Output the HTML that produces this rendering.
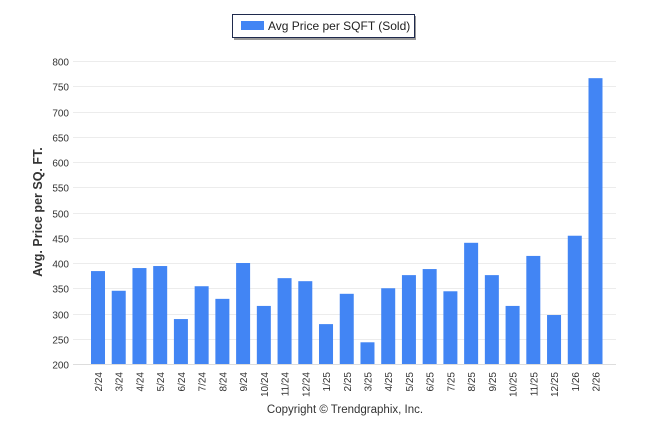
<!DOCTYPE html>
<html><head><meta charset="utf-8"><style>
body{margin:0;background:#fff;font-family:"Liberation Sans",Arial,sans-serif}
svg text{font-family:"Liberation Sans",Arial,sans-serif}
</style></head><body>
<svg id="c" width="646" height="434" viewBox="0 0 646 434">
<rect x="234" y="16" width="182" height="24" fill="#999"/>
<rect x="232.5" y="14.5" width="182" height="23" fill="#fff" stroke="#1f2a4d" stroke-width="1"/>
<rect x="241" y="21" width="23" height="9" fill="#4285f4"/>
<text x="268" y="30" font-size="12" fill="#222">Avg Price per SQFT (Sold)</text>
<text transform="translate(42,212) rotate(-90)" text-anchor="middle" font-size="12.5" font-weight="bold" fill="#333">Avg. Price per SQ. FT.</text>
<text x="345" y="413" text-anchor="middle" font-size="11.5" fill="#333">Copyright © Trendgraphix, Inc.</text>
<g id="grid"></g><g id="bars"></g><g id="xl"></g>
</svg>
<script>
const categories=["2/24","3/24","4/24","5/24","6/24","7/24","8/24","9/24","10/24","11/24","12/24","1/25","2/25","3/25","4/25","5/25","6/25","7/25","8/25","9/25","10/25","11/25","12/25","1/26","2/26"];
const values=[384,345,390,394,289,354,329,400,315,370,364,279,339,243,350,376,388,344,440,376,315,414,297,454,766];
const yTicks=[200,250,300,350,400,450,500,550,600,650,700,750,800];
const NS="http://www.w3.org/2000/svg";
const y0=364,y1=61,vmin=200,vmax=800,plotL=73,plotR=616;
const firstC=98,lastC=595.5;
function yScale(v){return y0-(v-vmin)/(vmax-vmin)*(y0-y1);}
function xScale(i){return firstC+i*(lastC-firstC)/(categories.length-1);}
function mk(t,a,p){const e=document.createElementNS(NS,t);for(const k in a)e.setAttribute(k,a[k]);p.appendChild(e);return e;}
const grid=document.getElementById('grid'),bars=document.getElementById('bars'),xl=document.getElementById('xl');
yTicks.forEach(t=>{
 const y=Math.round(yScale(t))+0.5;
 const l=mk('line',{x1:plotL,x2:plotR,y1:y,y2:y,stroke:t===vmin?'#ddd':'#ececec','stroke-width':1},grid);
 
 
 const tx=mk('text',{x:69,y:y+4,'text-anchor':'end','font-size':10,fill:'#333'},grid);
 tx.textContent=t;
 
 
});
categories.forEach((c,i)=>{
 const cx=xScale(i),v=values[i];
 const r=mk('rect',{x:cx-7,y:yScale(v),width:14,height:y0-yScale(v),fill:'#4285f4'},bars);
 
 
 const t=mk('text',{transform:`translate(${cx+4},372) rotate(-90)`,'text-anchor':'end','font-size':10,fill:'#333'},xl);
 t.textContent=c;
 
 
});
</script>
</body></html>
